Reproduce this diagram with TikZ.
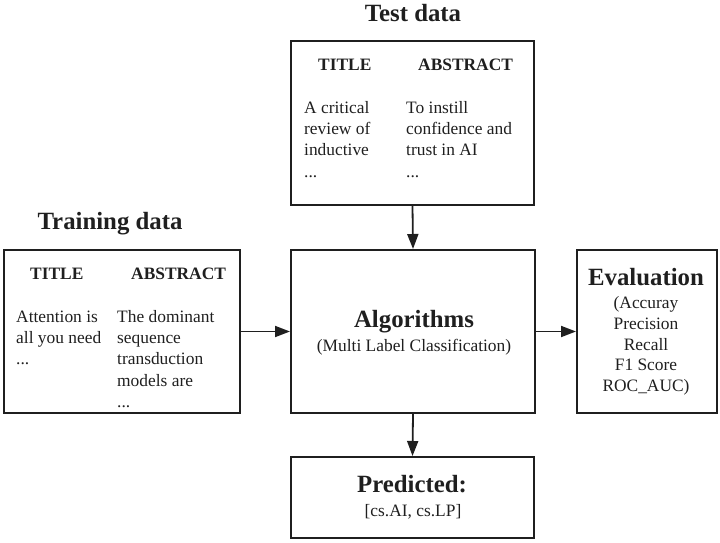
\documentclass[tikz,border=0pt]{standalone}
\usepackage{fontspec}
\setmainfont{Liberation Serif}
\usetikzlibrary{arrows.meta}

\begin{document}
\begin{tikzpicture}[x=1pt, y=-1pt,
    panel/.style={draw=black!88, line width=2pt, inner sep=0pt},
    heading/.style={text=black!88, font=\fontsize{24.8}{28}\selectfont\bfseries, inner sep=0pt, anchor=base},
    colhead/.style={text=black!88, font=\fontsize{17.4}{21.3}\selectfont\bfseries, inner sep=0pt, anchor=base west},
    body/.style={text=black!88, font=\fontsize{17.4}{21.3}\selectfont, align=left, inner sep=0pt, anchor=north west},
    midtext/.style={text=black!88, font=\fontsize{17.4}{20.9}\selectfont, align=center, inner sep=0pt, anchor=north},
    flow/.style={draw=black!88, line width=1.8pt, -{Triangle[length=15pt, width=11pt]}}]

\useasboundingbox (0,0) rectangle (720,543); %% page size

%% boxes
\node[panel, minimum width=243pt, minimum height=163pt] (test) at (412.5,123) {};
\node[panel, minimum width=236pt, minimum height=163pt] (train) at (122,331.5) {};
\node[panel, minimum width=244pt, minimum height=163pt] (algo) at (413,331.5) {};
\node[panel, minimum width=140pt, minimum height=163pt] (eval) at (647,331.5) {};
\node[panel, minimum width=243pt, minimum height=81pt] (pred) at (412.5,497.5) {};

%% test data
\node[heading] (testtitle) at (413,21.7) {Test data};
\node[colhead] (testhead1) at (318,70.7) {TITLE};
\node[colhead] (testhead2) at (418,70.7) {ABSTRACT};
\node[body] (testcol1) at (304,98.1) {\strut A critical\\review of\\inductive\\...};
\node[body] (testcol2) at (406,98.1) {\strut To instill\\confidence and\\trust in AI\\...};

%% training data
\node[heading] (traintitle) at (110,229) {Training data};
\node[colhead] (trainhead1) at (30,279) {TITLE};
\node[colhead] (trainhead2) at (131,279) {ABSTRACT};
\node[body] (traincol1) at (16,307.1) {\strut Attention is\\all you need\\...};
\node[body] (traincol2) at (117,307.1) {\strut The dominant\\sequence\\transduction\\models are\\...};

%% algorithms
\node[heading] (algotitle) at (414,327.3) {Algorithms};
\node[midtext, anchor=base] (algosub) at (414,351.7) {(Multi Label Classification)};

%% evaluation
\node[heading] (evaltitle) at (646,285) {Evaluation};
\node[midtext] (evalsub) at (646,293.4) {\strut(Accuray\\Precision\\Recall\\F1 Score\\ROC\_AUC)};

%% predicted
\node[heading] (predtitle) at (412,492.7) {Predicted:};
\node[midtext, anchor=base] (predsub) at (413,516) {[cs.AI, cs.LP]};

%% arrows
\draw[flow] (test.south) -- (algo.north);
\draw[flow] (train.east) -- (algo.west);
\draw[flow] (algo.east) -- (eval.west);
\draw[flow] (algo.south) -- (pred.north);

\end{tikzpicture}
\end{document}
